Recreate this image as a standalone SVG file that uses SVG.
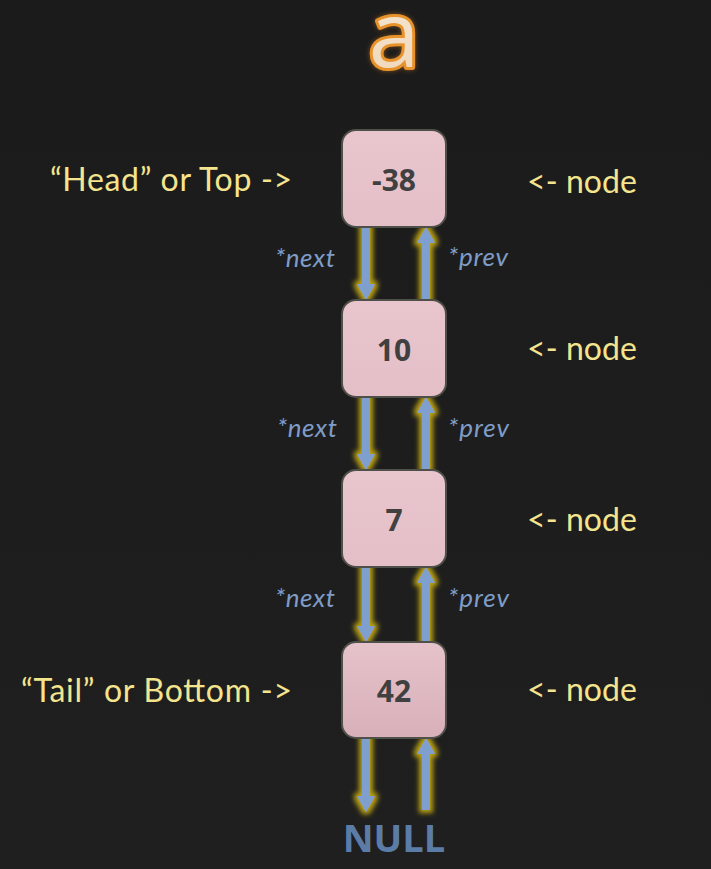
<svg xmlns="http://www.w3.org/2000/svg" width="711" height="869" viewBox="0 0 711 869">
<defs>
<linearGradient id="bg" x1="0" y1="0" x2="0" y2="1">
<stop offset="0" stop-color="#1b1b1b"/>
<stop offset="1" stop-color="#1f1f1f"/>
</linearGradient>
<linearGradient id="boxfill" x1="0" y1="0" x2="0" y2="1">
<stop offset="0" stop-color="#e9c5cd"/>
<stop offset="1" stop-color="#e4bfc8"/>
</linearGradient>
<linearGradient id="boxfill2" x1="0" y1="0" x2="0" y2="1">
<stop offset="0" stop-color="#e6c2ca"/>
<stop offset="1" stop-color="#d8b0ba"/>
</linearGradient>
<linearGradient id="afill" x1="0" y1="0" x2="0" y2="1">
<stop offset="0" stop-color="#f7e9d6"/>
<stop offset="1" stop-color="#efd6b8"/>
</linearGradient>
<filter id="glow" x="-100%" y="-20%" width="300%" height="140%">
<feMorphology in="SourceAlpha" operator="dilate" radius="2.5" result="d"/>
<feGaussianBlur in="d" stdDeviation="2.8" result="b"/>
<feFlood flood-color="#b8a014" flood-opacity="1"/>
<feComposite in2="b" operator="in" result="g"/>
<feMerge><feMergeNode in="g"/><feMergeNode in="SourceGraphic"/></feMerge>
</filter>
<filter id="aglow" x="-30%" y="-30%" width="160%" height="160%">
<feGaussianBlur in="SourceAlpha" stdDeviation="2.5" result="b"/>
<feFlood flood-color="#c07020" flood-opacity="0.6"/>
<feComposite in2="b" operator="in" result="s"/>
<feMerge><feMergeNode in="s"/><feMergeNode in="SourceGraphic"/></feMerge>
</filter>
</defs>
<style>
.box{fill:url(#boxfill);stroke:#50504a;stroke-width:2}
.num{font-family:"Open Sans",Lato,sans-serif;font-weight:bold;font-size:30px;fill:#404040;text-anchor:middle}
.lbl{font-family:Lato,"Open Sans",sans-serif;font-size:32px;fill:#f4e48e}
.ptr{font-family:Lato,"Open Sans",sans-serif;font-style:italic;font-size:26px;fill:#7f9cc8}
.arr{fill:#7f9fcf}
</style>
<rect width="711" height="869" fill="url(#bg)"/>
<text x="394" y="67" font-family="'Open Sans',Lato,sans-serif" font-weight="normal" font-size="92" text-anchor="middle" fill="url(#afill)" stroke="#e8922c" stroke-width="6" paint-order="stroke" stroke-linejoin="round" filter="url(#aglow)">a</text>

<g id="connectors" filter="url(#glow)">
<path class="arr" d="M362,227H370V284H375L366,300L357,284H362Z"/>
<path class="arr" d="M422,300H430V243H435L426,227L417,243H422Z"/>
<path class="arr" d="M362,397H370V454H375L366,470L357,454H362Z"/>
<path class="arr" d="M422,470H430V413H435L426,397L417,413H422Z"/>
<path class="arr" d="M362,567H370V626H375L366,642L357,626H362Z"/>
<path class="arr" d="M422,642H430V583H435L426,567L417,583H422Z"/>
<path class="arr" d="M362,738H370V796H375L366,812L357,796H362Z"/>
<path class="arr" d="M422,810H430V754H435L426,738L417,754H422Z"/>
</g>

<g id="node1">
<rect class="box" x="342" y="130" width="104" height="97" rx="14"/>
<text class="num" x="394" y="191">-38</text>
</g>
<g id="node2">
<rect class="box" x="342" y="300" width="104" height="97" rx="14"/>
<text class="num" x="394" y="361">10</text>
</g>
<g id="node3">
<rect class="box" x="342" y="470" width="104" height="97" rx="14"/>
<text class="num" x="394" y="531">7</text>
</g>
<g id="node4">
<rect class="box" x="342" y="642" width="104" height="96" rx="14" style="fill:url(#boxfill2)"/>
<text class="num" x="394" y="702">42</text>
</g>

<g id="labels">
<text class="lbl" x="50" y="191" textLength="242">“Head” or Top -&gt;</text>
<text class="lbl" x="21" y="702" textLength="271">“Tail” or Bottom -&gt;</text>
<text class="lbl" x="527" y="193" textLength="110">&lt;- node</text>
<text class="lbl" x="527" y="360" textLength="110">&lt;- node</text>
<text class="lbl" x="527" y="531" textLength="110">&lt;- node</text>
<text class="lbl" x="527" y="701" textLength="110">&lt;- node</text>
<text class="ptr" x="275" y="267" textLength="60">*next</text>
<text class="ptr" x="448" y="266" textLength="60">*prev</text>
<text class="ptr" x="277" y="437" textLength="60">*next</text>
<text class="ptr" x="448" y="437" textLength="61">*prev</text>
<text class="ptr" x="275" y="607" textLength="60">*next</text>
<text class="ptr" x="448" y="607" textLength="61">*prev</text>
</g>
<g id="null">
<text x="394" y="852" font-family="'Open Sans',Lato,sans-serif" font-weight="bold" font-size="38" fill="#5c7ca8" text-anchor="middle">NULL</text>
</g>
</svg>
